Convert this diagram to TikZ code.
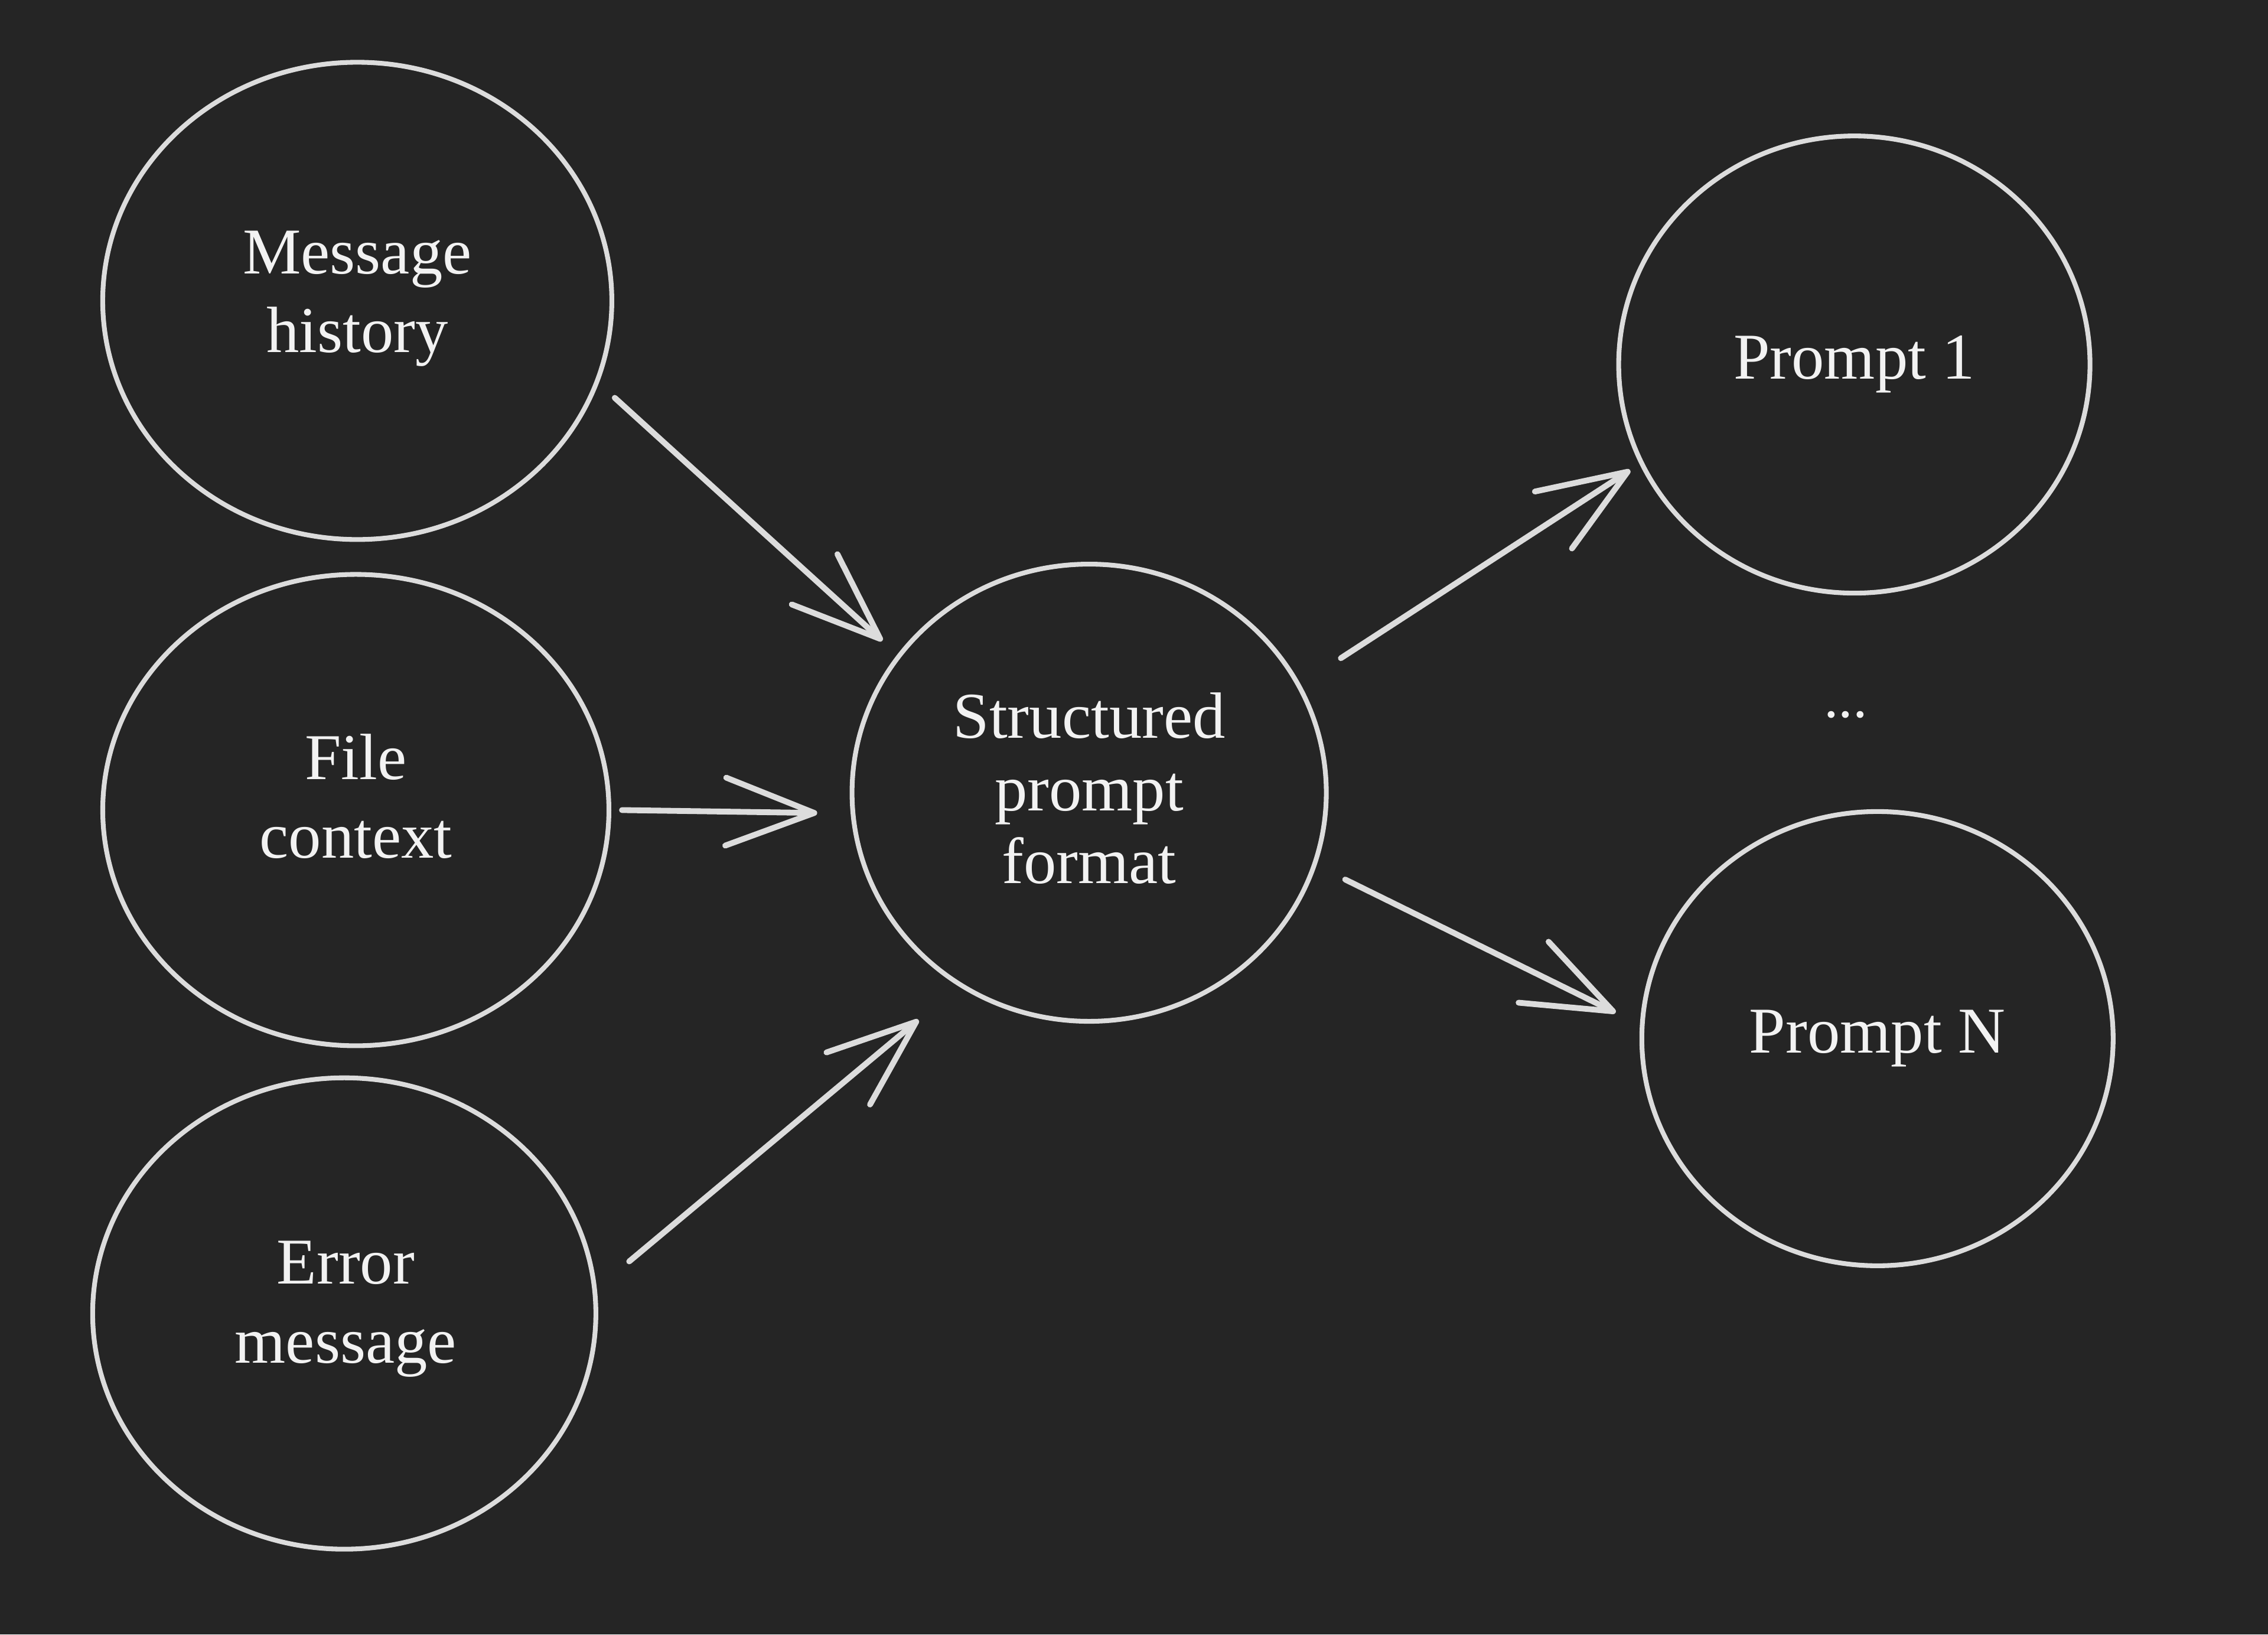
\documentclass[tikz,border=0pt]{standalone}
\usepackage{fontspec}
\setmainfont{Liberation Serif}
\usetikzlibrary{shapes.geometric,arrows.meta}
\definecolor{bg}{HTML}{252525}
\definecolor{strk}{HTML}{DCDCDC}
\definecolor{txt}{HTML}{F2F2F2}
\tikzset{
  bubble/.style={draw=strk, line width=2.3pt, ellipse, inner sep=0pt, align=center,
    text=txt, font=\fontsize{31.5pt}{38pt}\selectfont},
  label text/.style={text=txt, align=center, inner sep=0pt, font=\fontsize{31.5pt}{38pt}\selectfont},
  flow/.style={draw=strk, line width=2.8pt, line cap=round, line join=round,
    -{Straight Barb[length=1.5cm, width=1.15cm, line width=2.8pt, round]}},
}
\begin{document}
\begin{tikzpicture}[x=0.024490cm, y=-0.024496cm]
\fill[bg] (0,0) rectangle (1568,1130);
\useasboundingbox (0,0) rectangle (1568,1130);
\node[bubble, minimum width=8.62cm, minimum height=8.08cm] (mh) at (247,208) {};
\node[label text] (mht) at (247,206.5) {Message\\history};
\node[bubble, minimum width=8.57cm, minimum height=7.98cm] (fc) at (246,560) {};
\node[label text] (fct) at (246,550.5) {File\\context};
\node[bubble, minimum width=8.52cm, minimum height=7.98cm] (em) at (238,908) {};
\node[label text] (emt) at (239,905) {Error\\message};
\node[bubble, minimum width=8.03cm, minimum height=7.74cm] (spf) at (753,548) {};
\node[label text, font=\fontsize{31.5pt}{35pt}\selectfont] (spft) at (753,545) {Structured\\prompt\\format};
\node[bubble, minimum width=7.98cm, minimum height=7.74cm] (p1) at (1282,252) {Prompt 1};
\node[bubble, minimum width=7.98cm, minimum height=7.69cm] (pn) at (1298,718) {Prompt N};
\node[text=txt, font=\fontsize{28pt}{34pt}\selectfont] (dots) at (1276,494) {...};
\coordinate (a1s) at (425,275); \coordinate (a1e) at (610,443);
\coordinate (a2s) at (430,560); \coordinate (a2e) at (565,562);
\coordinate (a3s) at (435,872); \coordinate (a3e) at (635,705);
\coordinate (a4s) at (927,455); \coordinate (a4e) at (1127,325);
\coordinate (a5s) at (930,608); \coordinate (a5e) at (1117,700);
\draw[flow] (a1s) -- (a1e);
\draw[flow] (a2s) -- (a2e);
\draw[flow] (a3s) -- (a3e);
\draw[flow] (a4s) -- (a4e);
\draw[flow] (a5s) -- (a5e);
\end{tikzpicture}
\end{document}
